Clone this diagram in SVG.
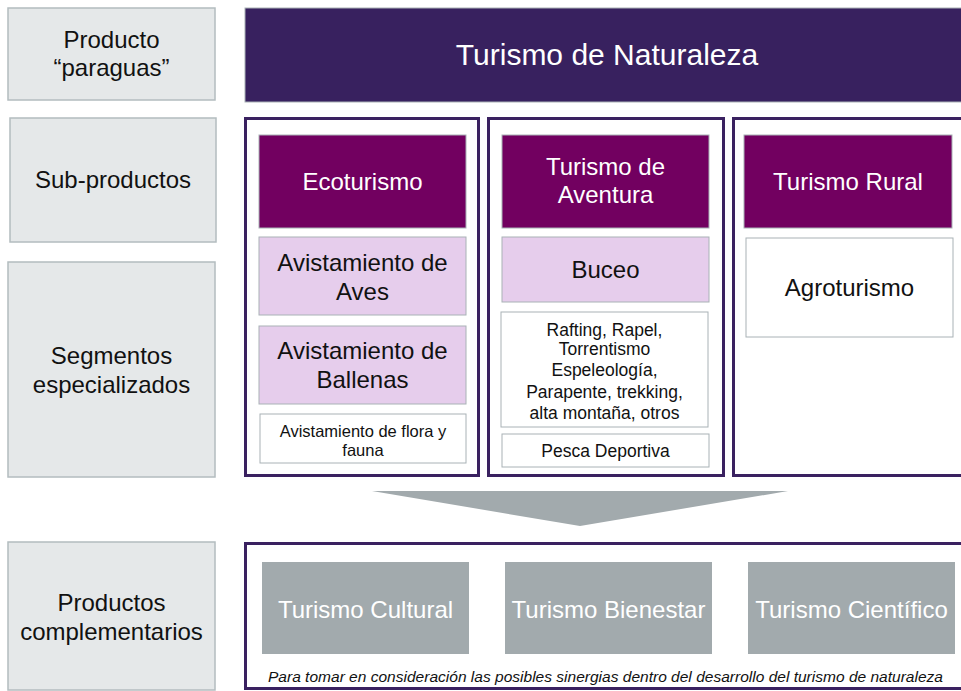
<svg xmlns="http://www.w3.org/2000/svg" width="961" height="691" viewBox="0 0 961 691">
<style>
text{font-family:"Liberation Sans",Arial,sans-serif;text-anchor:middle}
.lbl{fill:#e5e8e9;stroke:#b3bcbf;stroke-width:1.5}
.lt{font-size:24px;fill:#111}
.frame{fill:#fff;stroke:#3a2160;stroke-width:3}
.mag{fill:#720060;stroke:#a9b2b6;stroke-width:1}
.lav{fill:#e6cdec;stroke:#a9b2b6;stroke-width:1}
.wht{fill:#fff;stroke:#a9b2b6;stroke-width:1}
.gry{fill:#a2aaad}
.wt{font-size:24px;fill:#fff}
.bt{font-size:24px;fill:#111}
.st{font-size:17.5px;fill:#111}
</style>
<g id="label-paraguas"><rect class="lbl" x="8" y="8" width="207" height="92"/><text class="lt" x="111.5" y="47.5">Producto</text><text class="lt" x="111.5" y="75.5">“paraguas”</text></g>
<g id="label-subproductos"><rect class="lbl" x="10" y="118" width="206" height="124"/><text class="lt" x="113" y="188">Sub-productos</text></g>
<g id="label-segmentos"><rect class="lbl" x="8" y="262" width="207" height="215"/><text class="lt" x="111.5" y="364">Segmentos</text><text class="lt" x="111.5" y="393">especializados</text></g>
<g id="label-complementarios"><rect class="lbl" x="8" y="542" width="207" height="148"/><text class="lt" x="111.5" y="611">Productos</text><text class="lt" x="111.5" y="640">complementarios</text></g>
<g id="turismo-naturaleza"><rect x="245" y="8" width="720" height="94" fill="#38215f" stroke="#a9b2b6" stroke-width="1"/><text x="607" y="65" font-size="30" fill="#fff">Turismo de Naturaleza</text></g>
<g id="col-ecoturismo"><rect class="frame" x="245.5" y="118.5" width="233" height="357"/></g>
<g id="col-aventura"><rect class="frame" x="488.5" y="118.5" width="235" height="357"/></g>
<g id="col-rural"><rect class="frame" x="733.5" y="118.5" width="240" height="357"/></g>
<g id="ecoturismo"><rect class="mag" x="259" y="135" width="207" height="93"/><text class="wt" x="362.5" y="190">Ecoturismo</text></g>
<g id="aves"><rect class="lav" x="259" y="237" width="207" height="78"/><text class="bt" x="362.5" y="270.5">Avistamiento de</text><text class="bt" x="362.5" y="299.5">Aves</text></g>
<g id="ballenas"><rect class="lav" x="259" y="326" width="207" height="78"/><text class="bt" x="362.5" y="359">Avistamiento de</text><text class="bt" x="362.5" y="388">Ballenas</text></g>
<g id="flora"><rect class="wht" x="260" y="414" width="206" height="49"/><text x="363" y="436.5" font-size="16.5" fill="#111">Avistamiento de flora y</text><text x="363" y="456" font-size="16.5" fill="#111">fauna</text></g>
<g id="aventura"><rect class="mag" x="502" y="135" width="207" height="93"/><text class="wt" x="605.5" y="175">Turismo de</text><text class="wt" x="605.5" y="203">Aventura</text></g>
<g id="buceo"><rect class="lav" x="502" y="237" width="207" height="65"/><text class="bt" x="605.5" y="278">Buceo</text></g>
<g id="rafting"><rect class="wht" x="501" y="312" width="207" height="115"/><text class="st" x="604.5" y="336">Rafting, Rapel,</text><text class="st" x="604.5" y="355">Torrentismo</text><text class="st" x="604.5" y="376">Espeleología,</text><text class="st" x="604.5" y="398">Parapente, trekking,</text><text class="st" x="604.5" y="419">alta montaña,  otros</text></g>
<g id="pesca"><rect class="wht" x="502" y="434" width="207" height="33"/><text class="st" x="605.5" y="457">Pesca Deportiva</text></g>
<g id="rural"><rect class="mag" x="744" y="135" width="208" height="93"/><text class="wt" x="848" y="190">Turismo Rural</text></g>
<g id="agroturismo"><rect class="wht" x="746" y="238" width="207" height="99"/><text class="bt" x="849.5" y="296">Agroturismo</text></g>
<g id="connectors"><polygon class="gry" points="372,491 788,491 580,526"/></g>
<g id="complementarios-frame"><rect class="frame" x="245.5" y="543.5" width="730" height="145"/></g>
<g id="cultural"><rect class="gry" x="262" y="562" width="207" height="92"/><text class="wt" x="365.5" y="618">Turismo Cultural</text></g>
<g id="bienestar"><rect class="gry" x="505" y="562" width="207" height="92"/><text class="wt" x="608.5" y="618">Turismo Bienestar</text></g>
<g id="cientifico"><rect class="gry" x="748" y="562" width="207" height="92"/><text class="wt" x="851.5" y="618">Turismo Científico</text></g>
<g id="nota"><text x="605.5" y="682" font-size="15" font-style="italic" fill="#111" textLength="675" lengthAdjust="spacingAndGlyphs">Para tomar en consideración las posibles sinergias dentro del desarrollo del turismo de naturaleza</text></g>
</svg>
